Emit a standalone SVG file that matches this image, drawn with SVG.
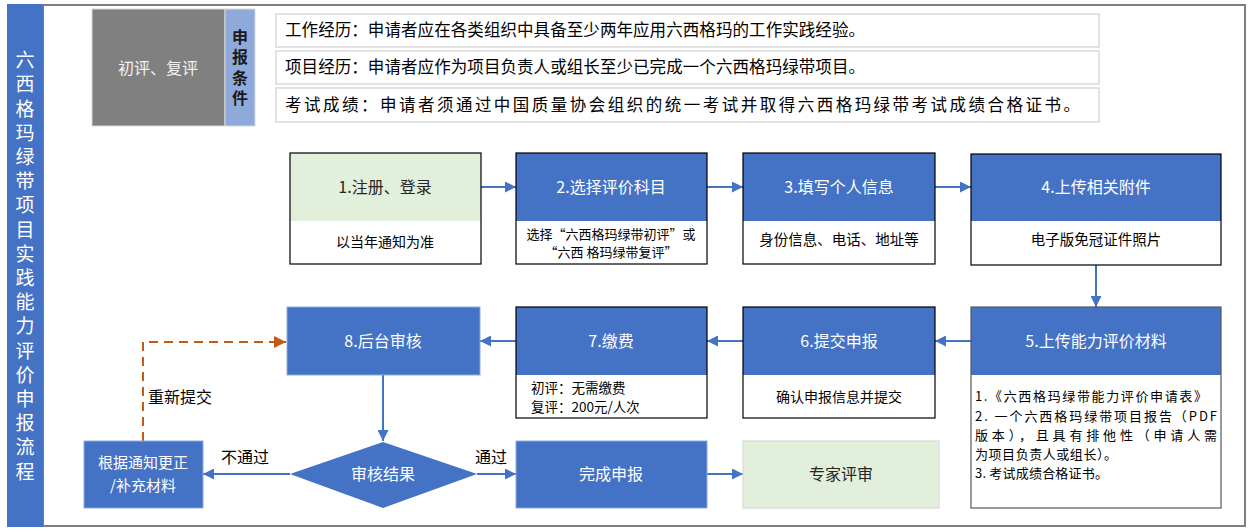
<svg xmlns="http://www.w3.org/2000/svg" width="1251" height="532" viewBox="0 0 1251 532">
<style>
text{font-family:"Noto Sans CJK SC","Liberation Sans",sans-serif;}
.t{font-size:16px;fill:#ffffff;text-anchor:middle;}
.td{font-size:16px;fill:#262626;text-anchor:middle;}
.s{font-size:14px;fill:#000000;text-anchor:middle;}
.req{font-size:16.5px;fill:#000000;}
.blue{fill:#4472c4;}
.box{fill:none;stroke:#000000;stroke-width:1.2;}
.conn{stroke:#4472c4;stroke-width:2;fill:none;}
.lbl{font-size:16px;fill:#000000;}
.m5{font-size:13px;fill:#000000;}
.vert{writing-mode:vertical-rl;}
</style>
<defs>
<marker id="ab" viewBox="0 0 10 10" refX="10" refY="5" markerWidth="11" markerHeight="11" markerUnits="userSpaceOnUse" orient="auto"><path d="M0,0 L10,5 L0,10 z" fill="#4472c4"/></marker>
<marker id="ao" viewBox="0 0 10 10" refX="10" refY="5" markerWidth="12" markerHeight="12" markerUnits="userSpaceOnUse" orient="auto"><path d="M0,0 L10,5 L0,10 z" fill="#c55a11"/></marker>
</defs>
<rect width="1251" height="532" fill="#ffffff"/>
<g id="frame">
<rect x="43" y="5" width="1202" height="521" fill="#ffffff" stroke="#7f7f7f" stroke-width="2"/>
<rect x="7" y="4" width="36" height="523" fill="#4472c4"/>
<text class="vert" x="25" y="50.5" font-size="19" fill="#ffffff" letter-spacing="5.2">六西格玛绿带项目实践能力评价申报流程</text>
</g>
<g id="conditions">
<rect x="92" y="9" width="133" height="117" fill="#808080" stroke="#d9d9d9" stroke-width="1"/>
<text x="158" y="74" font-size="16" fill="#f2f2f2" text-anchor="middle">初评、复评</text>
<rect x="225" y="9" width="30" height="117" fill="#8eaadb" stroke="#d9d9d9" stroke-width="1"/>
<text class="vert" x="240" y="29" font-size="16" font-weight="bold" fill="#1a1a1a" letter-spacing="4.3">申报条件</text>
</g>
<g id="req1"><rect x="276" y="14" width="823" height="33" fill="#ffffff" stroke="#d9d9d9" stroke-width="1.5"/><text class="req" x="285" y="36" textLength="580" lengthAdjust="spacing">工作经历：申请者应在各类组织中具备至少两年应用六西格玛的工作实践经验。</text></g>
<g id="req2"><rect x="276" y="51" width="823" height="33" fill="#ffffff" stroke="#d9d9d9" stroke-width="1.5"/><text class="req" x="285" y="73" textLength="580" lengthAdjust="spacing">项目经历：申请者应作为项目负责人或组长至少已完成一个六西格玛绿带项目。</text></g>
<g id="req3"><rect x="276" y="88" width="823" height="34" fill="#ffffff" stroke="#d9d9d9" stroke-width="1.5"/><text class="req" x="285" y="111" textLength="795" lengthAdjust="spacing">考试成绩：申请者须通过中国质量协会组织的统一考试并取得六西格玛绿带考试成绩合格证书。</text></g>

<g id="connectors">
<line class="conn" x1="481" y1="187" x2="516" y2="187" marker-end="url(#ab)"/>
<line class="conn" x1="707" y1="187" x2="743" y2="187" marker-end="url(#ab)"/>
<line class="conn" x1="935" y1="187" x2="971" y2="187" marker-end="url(#ab)"/>
<line class="conn" x1="1096" y1="265" x2="1096" y2="307" marker-end="url(#ab)"/>
<line class="conn" x1="971" y1="341" x2="935" y2="341" marker-end="url(#ab)"/>
<line class="conn" x1="743" y1="341" x2="707" y2="341" marker-end="url(#ab)"/>
<line class="conn" x1="516" y1="341" x2="480" y2="341" marker-end="url(#ab)"/>
<line class="conn" x1="383" y1="375" x2="383" y2="441" marker-end="url(#ab)"/>
<line class="conn" x1="290" y1="474" x2="203" y2="474" marker-end="url(#ab)"/>
<line class="conn" x1="477" y1="474" x2="516" y2="474" marker-end="url(#ab)"/>
<line class="conn" x1="707" y1="474" x2="743" y2="474" marker-end="url(#ab)"/>
<path d="M143,441 V342 H286" fill="none" stroke="#c55a11" stroke-width="2" stroke-dasharray="9,6" marker-end="url(#ao)"/>
<text class="lbl" x="221" y="463">不通过</text>
<text class="lbl" x="475" y="463">通过</text>
<text class="lbl" x="148" y="403">重新提交</text>
</g>

<g id="n1">
<rect x="290" y="153" width="191" height="68" fill="#e2efda"/>
<rect x="290" y="221" width="191" height="43" fill="#ffffff"/>
<rect class="box" x="290" y="153" width="191" height="111"/>
<text class="td" x="385" y="193">1.注册、登录</text>
<text class="s" x="385" y="247">以当年通知为准</text>
</g>
<g id="n2">
<rect class="blue" x="516" y="153" width="191" height="68"/>
<rect x="516" y="221" width="191" height="43" fill="#ffffff"/>
<rect class="box" x="516" y="153" width="191" height="111"/>
<text class="t" x="611" y="193">2.选择评价科目</text>
<text class="s" style="font-size:13px"><tspan x="611" y="239">选择“六西格玛绿带初评”或</tspan><tspan x="611" y="257">“六西 格玛绿带复评”</tspan></text>
</g>
<g id="n3">
<rect class="blue" x="743" y="153" width="192" height="68"/>
<rect x="743" y="221" width="192" height="43" fill="#ffffff"/>
<rect class="box" x="743" y="153" width="192" height="111"/>
<text class="t" x="839" y="193">3.填写个人信息</text>
<text class="s" x="839" y="245" style="font-size:14.5px">身份信息、电话、地址等</text>
</g>
<g id="n4">
<rect class="blue" x="971" y="154" width="250" height="67"/>
<rect x="971" y="221" width="250" height="44" fill="#ffffff"/>
<rect class="box" x="971" y="154" width="250" height="111"/>
<text class="t" x="1096" y="193">4.上传相关附件</text>
<text class="s" x="1096" y="245" style="font-size:14.5px">电子版免冠证件照片</text>
</g>
<g id="n5">
<rect class="blue" x="971" y="307" width="250" height="68"/>
<rect x="971" y="375" width="250" height="133" fill="#ffffff"/>
<rect x="971" y="307" width="250" height="201" fill="none" stroke="#595959" stroke-width="1.2"/>
<text class="t" x="1096" y="347">5.上传能力评价材料</text>
<text class="m5" x="975" y="401" textLength="232" lengthAdjust="spacing">1.《六西格玛绿带能力评价申请表》</text>
<text class="m5" x="975" y="421" textLength="242" lengthAdjust="spacing">2. 一个六西格玛绿带项目报告（PDF</text>
<text class="m5" x="975" y="440" textLength="242" lengthAdjust="spacing">版本），且具有排他性（申请人需</text>
<text class="m5" x="975" y="459" textLength="142" lengthAdjust="spacing">为项目负责人或组长）。</text>
<text class="m5" x="975" y="478" textLength="133" lengthAdjust="spacing">3. 考试成绩合格证书。</text>
</g>
<g id="n6">
<rect class="blue" x="743" y="307" width="192" height="68"/>
<rect x="743" y="375" width="192" height="43" fill="#ffffff"/>
<rect class="box" x="743" y="307" width="192" height="111"/>
<text class="t" x="839" y="347">6.提交申报</text>
<text class="s" x="839" y="402">确认申报信息并提交</text>
</g>
<g id="n7">
<rect class="blue" x="516" y="307" width="191" height="68"/>
<rect x="516" y="375" width="191" height="43" fill="#ffffff"/>
<rect class="box" x="516" y="307" width="191" height="111"/>
<text class="t" x="611" y="347">7.缴费</text>
<text font-size="13.5" fill="#000000"><tspan x="531" y="393">初评：无需缴费</tspan><tspan x="531" y="412">复评：200元/人次</tspan></text>
</g>
<g id="n8">
<rect class="blue" x="287" y="307" width="193" height="68" stroke="#8faadc" stroke-width="1"/>
<text class="t" x="383" y="347">8.后台审核</text>
</g>
<g id="decision">
<polygon class="blue" points="383,442 477,474 383,508 290,474"/>
<text class="t" x="383" y="480">审核结果</text>
</g>
<g id="fix">
<rect class="blue" x="84" y="441" width="119" height="67" stroke="#8faadc" stroke-width="1"/>
<text class="t" style="font-size:15px" x="143" y="468">根据通知更正</text>
<text class="t" style="font-size:15px" x="143" y="490.5">/补充材料</text>
</g>
<g id="done">
<rect class="blue" x="516" y="441" width="191" height="67" stroke="#8faadc" stroke-width="1"/>
<text class="t" x="611" y="480">完成申报</text>
</g>
<g id="expert">
<rect x="743" y="441" width="196" height="67" fill="#e2efda" stroke="#d9d9d9" stroke-width="1.2"/>
<text class="td" x="841" y="480">专家评审</text>
</g>
</svg>
